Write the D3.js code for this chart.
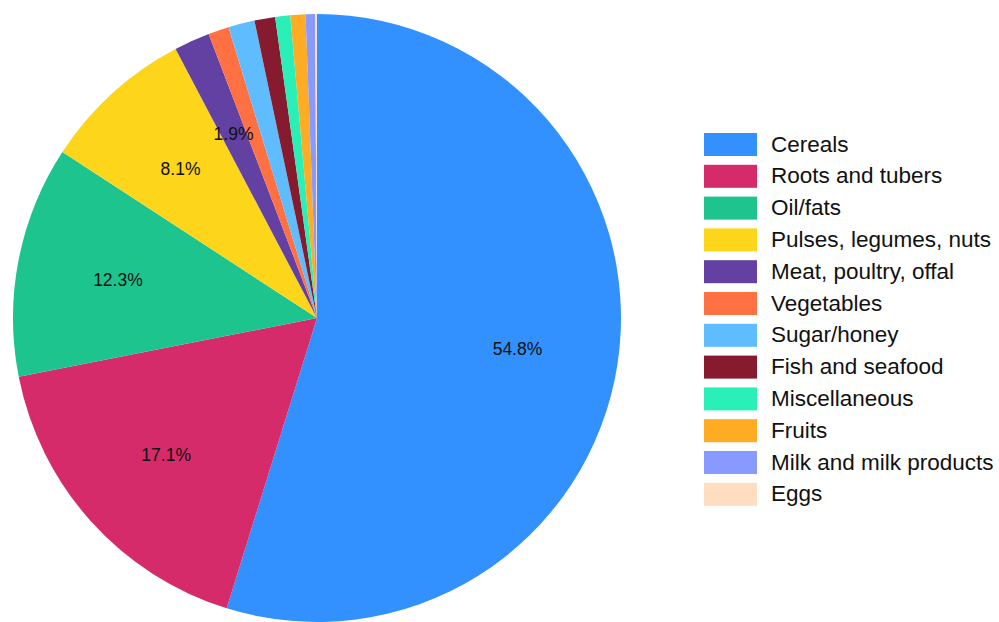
<!DOCTYPE html>
<html>
<head>
<meta charset="utf-8">
<script src="https://cdn.jsdelivr.net/npm/d3@7"></script>
<style>
  html, body { margin: 0; padding: 0; background: #fff; }
  svg { display: block; font-family: "Liberation Sans", Arial, sans-serif; }
</style>
</head>
<body>
<svg id="chart" width="999" height="622"></svg>
<script>
// Share of dietary energy by food group (%)
const categories = [
  "Cereals", "Roots and tubers", "Oil/fats", "Pulses, legumes, nuts",
  "Meat, poultry, offal", "Vegetables", "Sugar/honey", "Fish and seafood",
  "Miscellaneous", "Fruits", "Milk and milk products", "Eggs"
];
const values = [54.8, 17.1, 12.3, 8.1, 1.9, 1.1, 1.4, 1.1, 0.8, 0.8, 0.5, 0.1];
const colors = [
  "#3291FF", "#D62B6A", "#1DC48D", "#FDD51B", "#6341A3", "#FF7043",
  "#5FBDFF", "#861A2E", "#2AF0B8", "#FDAC24", "#8899FF", "#FFDDC0"
];
// Only slices at least this large carry a percentage label
const labelThreshold = 1.5;

const svg = d3.select("#chart");
const cx = 317, cy = 318, radius = 304;

const data = categories.map((c, i) => ({ name: c, value: values[i], color: colors[i] }));

const pie = d3.pie().value(d => d.value).sort(null);
const arc = d3.arc().innerRadius(0).outerRadius(radius);
const labelArc = d3.arc().innerRadius(radius * 0.667).outerRadius(radius * 0.667);

const g = svg.append("g").attr("transform", `translate(${cx},${cy})`);
const arcs = pie(data);

g.selectAll("path.slice")
  .data(arcs)
  .join("path")
  .attr("class", "slice")
  .attr("d", arc)
  .attr("fill", d => d.data.color);

g.selectAll("text.pct")
  .data(arcs.filter(d => d.data.value >= labelThreshold))
  .join("text")
  .attr("class", "pct")
  .attr("transform", d => `translate(${labelArc.centroid(d)})`)
  .attr("dy", 1)
  .attr("text-anchor", "middle")
  .attr("dominant-baseline", "central")
  .attr("font-size", 17.5)
  .attr("fill", "#111")
  .text(d => d.data.value.toFixed(1) + "%");

// Legend
const legend = svg.append("g").attr("transform", "translate(704,133)");
const rowH = 31.8;
const rows = legend.selectAll("g.row")
  .data(data)
  .join("g")
  .attr("class", "row")
  .attr("transform", (d, i) => `translate(0,${i * rowH})`);

rows.append("rect")
  .attr("width", 53)
  .attr("height", 23)
  .attr("fill", d => d.color);

rows.append("text")
  .attr("x", 67)
  .attr("y", 11)
  .attr("dominant-baseline", "central")
  .attr("font-size", 22.5)
  .attr("fill", "#111")
  .text(d => d.name);
</script>
</body>
</html>
